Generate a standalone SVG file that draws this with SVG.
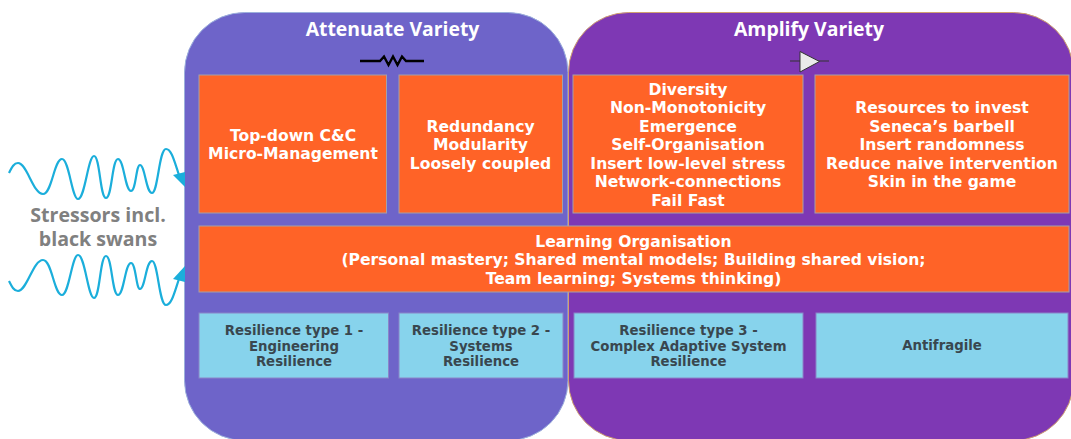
<svg xmlns="http://www.w3.org/2000/svg" width="1071" height="439" viewBox="0 0 1071 439">
<style>
.o{fill:#FF6327;stroke:#A5A0A8;stroke-width:1}
.b{fill:#87D3EC;stroke:#8A84C8;stroke-width:1}
.t{font-family:"DejaVu Sans",Verdana,sans-serif;font-weight:700;font-size:15.6px;fill:#fff;text-anchor:middle}
.d{font-family:"DejaVu Sans",Verdana,sans-serif;font-weight:700;font-size:13.3px;fill:#39474F;text-anchor:middle}
.h{font-family:"Open Sans","Noto Sans",sans-serif;font-weight:700;font-size:19.400px;fill:#fff;text-anchor:middle}
.s{font-family:"Open Sans","Noto Sans",sans-serif;font-weight:700;font-size:19.600px;fill:#808080;text-anchor:middle}
.w{fill:none;stroke:#1BAEDB;stroke-width:2.200}
.a{fill:#1BAEDB}
</style>
<g id="panel-attenuate">
<rect x="184.500" y="12.500" width="383.500" height="428" rx="60" ry="60" fill="#6E64C9" stroke="#9CB0DC" stroke-width="1"/>
<text class="h" x="392.500" y="36">Attenuate Variety</text>
<path d="M360 61H380L384 56.500 388.500 65 393 56.500 397.500 65 402 56.500 406 61H424" fill="none" stroke="#000" stroke-width="2.400"/>
</g>
<g id="panel-amplify">
<rect x="568.500" y="12.500" width="505" height="428" rx="60" ry="60" fill="#7E38B4" stroke="#D0A070" stroke-width="1"/>
<text class="h" x="809" y="36">Amplify Variety</text>
<path d="M790 61H829" stroke="#333" stroke-width="1" fill="none"/>
<path d="M800 51.500V72L819.500 61.500Z" fill="#EAEAEA" stroke="#333" stroke-width="1"/>
</g>
<g id="box-topdown">
<rect class="o" x="199" y="75" width="187.500" height="138"/>
<text class="t"><tspan x="293" y="141">Top-down C&amp;C</tspan><tspan x="293" y="159">Micro-Management</tspan></text>
</g>
<g id="box-redundancy">
<rect class="o" x="399" y="75" width="163.500" height="138"/>
<text class="t"><tspan x="480.500" y="132">Redundancy</tspan><tspan x="480.500" y="150">Modularity</tspan><tspan x="480.500" y="169">Loosely coupled</tspan></text>
</g>
<g id="box-diversity">
<rect class="o" x="573" y="75" width="230" height="138"/>
<text class="t"><tspan x="688" y="95">Diversity</tspan><tspan x="688" y="113">Non-Monotonicity</tspan><tspan x="688" y="132">Emergence</tspan><tspan x="688" y="150">Self-Organisation</tspan><tspan x="688" y="169">Insert low-level stress</tspan><tspan x="688" y="187">Network-connections</tspan><tspan x="688" y="206">Fail Fast</tspan></text>
</g>
<g id="box-resources">
<rect class="o" x="815" y="75" width="254" height="138"/>
<text class="t"><tspan x="942" y="113">Resources to invest</tspan><tspan x="942" y="132">Seneca’s barbell</tspan><tspan x="942" y="150">Insert randomness</tspan><tspan x="942" y="169">Reduce naive intervention</tspan><tspan x="942" y="187">Skin in the game</tspan></text>
</g>
<g id="box-learning">
<rect class="o" x="199" y="226" width="870" height="66"/>
<text class="t"><tspan x="633.500" y="247">Learning Organisation</tspan><tspan x="633.500" y="265">(Personal mastery; Shared mental models; Building shared vision;</tspan><tspan x="633.500" y="284">Team learning; Systems thinking)</tspan></text>
</g>
<g id="box-type1">
<rect class="b" x="199" y="313" width="189.500" height="65"/>
<text class="d"><tspan x="294" y="335">Resilience type 1 -</tspan><tspan x="294" y="351">Engineering</tspan><tspan x="294" y="366">Resilience</tspan></text>
</g>
<g id="box-type2">
<rect class="b" x="399" y="313" width="164" height="65"/>
<text class="d"><tspan x="481" y="335">Resilience type 2 -</tspan><tspan x="481" y="351">Systems</tspan><tspan x="481" y="366">Resilience</tspan></text>
</g>
<g id="box-type3">
<rect class="b" x="574" y="313" width="229" height="65"/>
<text class="d"><tspan x="688.500" y="335">Resilience type 3 -</tspan><tspan x="688.500" y="351">Complex Adaptive System</tspan><tspan x="688.500" y="366">Resilience</tspan></text>
</g>
<g id="box-antifragile">
<rect class="b" x="816" y="313" width="252" height="65"/>
<text class="d" x="942" y="350">Antifragile</text>
</g>
<g id="stressors">
<text class="s" x="98" y="222">Stressors incl.</text>
<text class="s" x="98" y="246">black swans</text>
</g>
<g id="connectors">
<path class="w" d="M9 173C12 167 14 163 18 163C27 163 33 194 43 194C52 194 54 159 62 159C69 159 72 199 78 199C85 199 88 156 94 156C100 156 100 198 106 198C112 198 112 159 118 159C124 159 125 191 131 191C136 191 136 165 140 165C145 165 146 193 152 193C158 193 159 149 166 149C172 149 175 164 180 178"/>
<path class="a" d="M173 175L185 172V187Z"/>
<path class="w" d="M9 281C12 287 14 291 18 291C27 291 33 260 43 260C52 260 54 295 62 295C69 295 72 255 78 255C85 255 88 298 94 298C100 298 100 256 106 256C112 256 112 295 118 295C124 295 125 263 131 263C136 263 136 289 140 289C145 289 146 261 152 261C158 261 159 305 166 305C172 305 175 290 180 276"/>
<path class="a" d="M173 279L185 266V282Z"/>
</g>
</svg>
